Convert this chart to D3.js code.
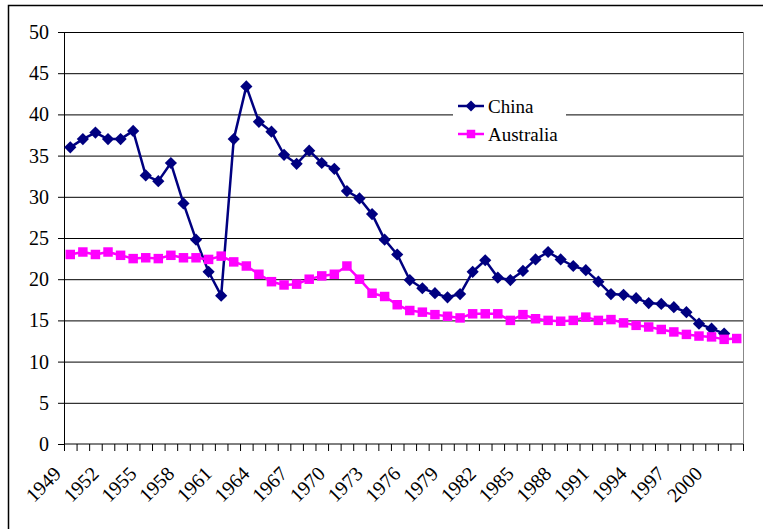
<!DOCTYPE html>
<html>
<head>
<meta charset="utf-8">
<script src="https://cdn.jsdelivr.net/npm/d3@7"></script>
<style>
  html, body { margin: 0; padding: 0; background: #fff; }
</style>
</head>
<body>
<div id="chart"></div>
<script>
const years = d3.range(1949, 2003).map(String);
const tickYears = d3.range(1949, 2001, 3).map(String);
const yTicks = [0, 5, 10, 15, 20, 25, 30, 35, 40, 45, 50];

const china = [36.0, 37.0, 37.8, 37.0, 37.0, 38.0, 32.6, 31.9, 34.1, 29.2,
  24.8, 20.9, 18.0, 37.0, 43.4, 39.1, 37.9, 35.1, 34.0, 35.6,
  34.1, 33.4, 30.7, 29.8, 27.9, 24.8, 23.0, 19.9, 18.9, 18.3,
  17.8, 18.2, 20.9, 22.3, 20.2, 19.9, 21.0, 22.4, 23.3, 22.4,
  21.6, 21.1, 19.7, 18.2, 18.1, 17.7, 17.1, 17.0, 16.6, 16.0,
  14.6, 14.0, 13.4];
const australia = [23.0, 23.3, 23.0, 23.3, 22.9, 22.5, 22.6, 22.5, 22.9, 22.6,
  22.6, 22.4, 22.8, 22.1, 21.6, 20.6, 19.7, 19.3, 19.4, 20.0,
  20.4, 20.6, 21.6, 20.0, 18.3, 17.9, 16.9, 16.2, 16.0, 15.7,
  15.5, 15.3, 15.8, 15.8, 15.8, 15.0, 15.7, 15.2, 15.0, 14.9,
  15.0, 15.4, 15.0, 15.1, 14.7, 14.4, 14.2, 13.9, 13.6, 13.3,
  13.1, 13.0, 12.7, 12.8];

const series = [
  { name: "China", values: china, color: "#000080", marker: d3.symbolDiamond2, size: 95 },
  { name: "Australia", values: australia, color: "#FF00FF", marker: d3.symbolSquare, size: 90 }
];

const FONT = "'Liberation Serif', 'Times New Roman', 'DejaVu Serif', serif";
const width = 763, height = 529;
const margin = { top: 32, right: 20, bottom: 85, left: 64 };

const svg = d3.select("#chart").append("svg")
  .attr("width", width)
  .attr("height", height)
  .style("font-family", FONT);

// outer chart frame
svg.append("path")
  .attr("d", `M8.5,${height} V5.5 H${width}`)
  .attr("fill", "none")
  .attr("stroke", "#000")
  .attr("stroke-width", 1.5);

const x = d3.scaleBand()
  .domain(years)
  .range([margin.left, width - margin.right]);

const y = d3.scaleLinear()
  .domain([0, 50])
  .range([height - margin.bottom, margin.top]);

// gridlines
svg.append("g")
  .selectAll("line")
  .data(yTicks.filter(d => d > 0))
  .join("line")
  .attr("x1", margin.left)
  .attr("x2", width - margin.right)
  .attr("y1", d => y(d) + 0.5)
  .attr("y2", d => y(d) + 0.5)
  .attr("stroke", "#000")
  .attr("stroke-width", 1);

// plot area right border
svg.append("line")
  .attr("x1", width - margin.right + 0.5)
  .attr("x2", width - margin.right + 0.5)
  .attr("y1", margin.top)
  .attr("y2", height - margin.bottom)
  .attr("stroke", "#888");

// y axis
const yAxis = svg.append("g")
  .attr("transform", `translate(${margin.left},0)`)
  .call(d3.axisLeft(y).tickValues(yTicks).tickSize(6).tickPadding(9));
yAxis.attr("font-family", null).attr("font-size", null);
yAxis.select(".domain").attr("stroke", "#000");
yAxis.selectAll("line").attr("stroke", "#000");
yAxis.selectAll("text")
  .attr("font-size", 20)
  .attr("font-family", FONT)
  .attr("fill", "#000");

// x axis: tick marks at category boundaries
const xAxisG = svg.append("g")
  .attr("transform", `translate(0,${height - margin.bottom})`);
xAxisG.append("line")
  .attr("x1", margin.left)
  .attr("x2", width - margin.right)
  .attr("stroke", "#000");
xAxisG.selectAll(".tk")
  .data(years.concat(["end"]))
  .join("line")
  .attr("class", "tk")
  .attr("x1", (d, i) => margin.left + i * x.step() + 0.5)
  .attr("x2", (d, i) => margin.left + i * x.step() + 0.5)
  .attr("y1", 0)
  .attr("y2", 7)
  .attr("stroke", "#000");
xAxisG.selectAll("text")
  .data(tickYears)
  .join("text")
  .attr("transform", d => `translate(${x(d) + x.bandwidth() / 2 - 8},${31}) rotate(-45)`)
  .attr("text-anchor", "end")
  .attr("font-size", 20)
  .attr("font-family", FONT)
  .attr("fill", "#000")
  .text(d => d);

// series
const line = d3.line()
  .x((d, i) => x(years[i]) + x.bandwidth() / 2)
  .y(d => y(d));

series.forEach(s => {
  const g = svg.append("g");
  g.append("path")
    .datum(s.values)
    .attr("d", line)
    .attr("fill", "none")
    .attr("stroke", s.color)
    .attr("stroke-width", 2.5)
    .attr("stroke-linejoin", "round");
  g.selectAll("path.mk")
    .data(s.values)
    .join("path")
    .attr("class", "mk")
    .attr("transform", (d, i) => `translate(${x(years[i]) + x.bandwidth() / 2},${y(d)})`)
    .attr("d", d3.symbol(s.marker, s.size))
    .attr("fill", s.color);
});

// legend
const legend = svg.append("g").attr("transform", "translate(453,93)");
legend.append("rect")
  .attr("width", 113)
  .attr("height", 54)
  .attr("fill", "#fff");
series.forEach((s, i) => {
  const row = legend.append("g").attr("transform", `translate(5,${13 + i * 28})`);
  row.append("line")
    .attr("x1", 0).attr("x2", 26)
    .attr("stroke", s.color)
    .attr("stroke-width", 2.5);
  row.append("path")
    .attr("transform", "translate(13,0)")
    .attr("d", d3.symbol(s.marker, s.size * 0.8))
    .attr("fill", s.color);
  row.append("text")
    .attr("x", 30)
    .attr("dy", "0.35em")
    .attr("font-size", 19)
    .attr("font-family", FONT)
    .attr("fill", "#000")
    .text(s.name);
});
</script>
</body>
</html>
